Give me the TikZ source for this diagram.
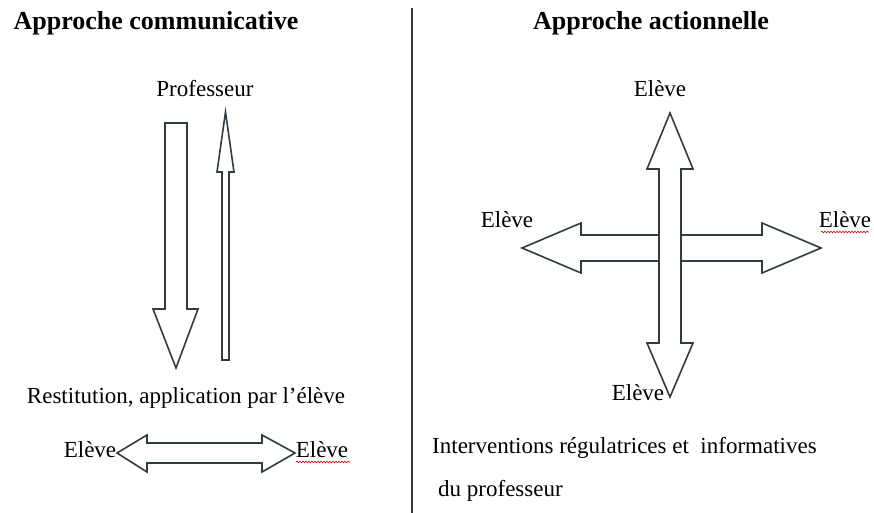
\documentclass[tikz,border=0pt]{standalone}
\usepackage{fontspec}
\setmainfont{Liberation Serif}
\usetikzlibrary{decorations.pathmorphing}
\definecolor{arrowgray}{RGB}{48,60,66}
\begin{document}
\begin{tikzpicture}[x=1pt,y=-1pt,
	blockarrow/.style={draw=arrowgray, line width=1.6pt, fill=white, line join=miter},
	txt/.style={inner sep=0pt, font=\fontsize{23}{28}\selectfont},
	titre/.style={inner sep=0pt, font=\fontsize{26}{30}\selectfont\bfseries},
	squiggle/.style={red!80!black, line width=0.6pt, decorate, decoration={snake, segment length=3pt, amplitude=0.8pt}}]
	\useasboundingbox[fill=white] (0,0) rectangle (874,513);

	% Divider
	\draw[arrowgray, line width=1.8pt] (412,8) -- (412,513);

	% Titles
	\node[titre] (titcomm) at (156,23) {Approche communicative};
	\node[titre] (titact) at (651,23) {Approche actionnelle};

	% Left side: teacher <-> student
	\node[txt] (prof) at (205,89) {Professeur};
	\draw[blockarrow] (165,123) -- (187,123) -- (187,309) -- (198,309) -- (176,368) -- (153,309) -- (165,309) -- cycle;
	\draw[blockarrow] (222,360) -- (229,360) -- (229,172) -- (234,172) -- (225.5,112) -- (217,172) -- (222,172) -- cycle;
	\node[txt] (restit) at (186,398) {Restitution, application par l’élève};

	% Left side: student <-> student
	\draw[blockarrow] (117,453) -- (147,435) -- (147,443) -- (262,443) -- (262,435) -- (295,453) -- (262,472) -- (262,463) -- (147,463) -- (147,472) -- cycle;
	\node[txt] (elevl) at (90,450) {Elève};
	\node[txt] (elevr) at (322,450) {Elève};
	\draw[squiggle] (296,462) -- (350,462);

	% Right side: cross
	\draw[blockarrow] (522,248) -- (581,223) -- (581,235) -- (762,235) -- (762,223) -- (821,248) -- (762,273) -- (762,261) -- (581,261) -- (581,273) -- cycle;
	\draw[blockarrow] (670,113) -- (693,169) -- (681,169) -- (681,343) -- (693,343) -- (670,397) -- (647,343) -- (659,343) -- (659,169) -- (647,169) -- cycle;
	\node[txt] (eletop) at (660,89) {Elève};
	\node[txt] (eleleft) at (507,220) {Elève};
	\node[txt] (eleright) at (845,220) {Elève};
	\draw[squiggle] (821,232) -- (869,232);
	\node[txt] (elebot) at (638,393) {Elève};

	% Right side: caption
	\node[txt, anchor=west] (interv) at (432,448) {Interventions régulatrices et \ informatives};
	\node[txt, anchor=west] (duprof) at (438,491) {du professeur};

\end{tikzpicture}
\end{document}
